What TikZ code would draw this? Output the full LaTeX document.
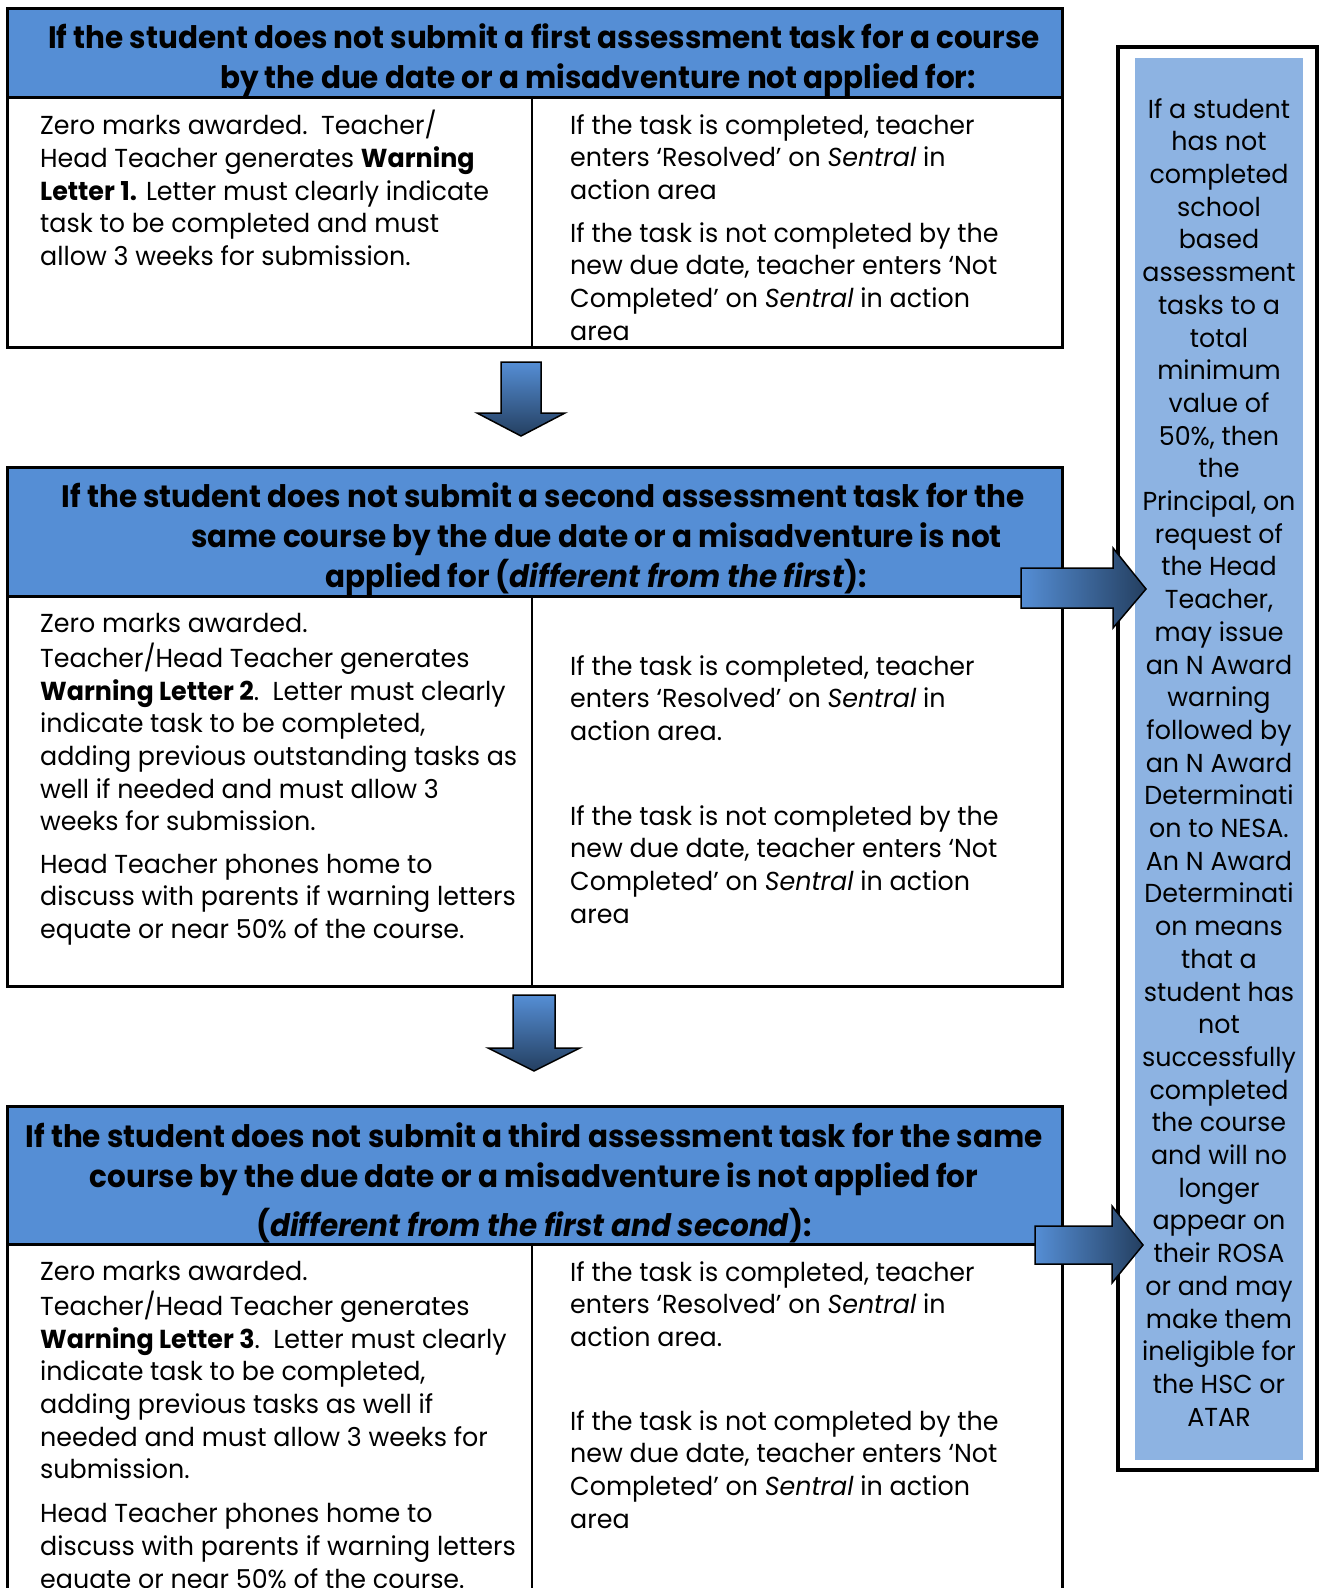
\documentclass[tikz,border=0pt]{standalone}
\usepackage{fontspec}
\setmainfont{Poppins}[FakeStretch=0.975]
\newfontfamily\headfont{Poppins}[FakeStretch=0.95]
\usetikzlibrary{positioning}

\definecolor{headblue}{RGB}{85,142,213}
\definecolor{sideblue}{RGB}{141,179,226}
\definecolor{darkblue}{RGB}{36,63,96}

\tikzset{
	bodytext/.style={anchor=north west, inner sep=0pt, align=left, font=\fontsize{26}{32.7}\selectfont},
	headtext/.style={anchor=north, inner sep=0pt, align=center, font=\headfont\bfseries\fontsize{31}{40}\selectfont},
	sidetext/.style={anchor=north, inner sep=0pt, align=center, font=\fontsize{26}{32.7}\selectfont},
	boxline/.style={line width=3pt},
	blockarrow/.style={draw=black, line width=1.5pt}
}

\begin{document}
\begin{tikzpicture}[x=1pt,y=-1pt]
	\newcommand{\myheadcolor}{headblue}
	\newcommand{\mysidecolor}{sideblue}
	\newcommand{\mydarkcolor}{darkblue}

		\useasboundingbox (0,0) rectangle (1320,1588);

		\def\arrowdownA{(501,362) -- (541,362) -- (541,413) -- (565,413) -- (521,436) -- (477,413) -- (501,413) -- cycle}
		\def\arrowdownB{(513,995) -- (555,995) -- (555,1048) -- (580,1048) -- (534,1071) -- (488,1048) -- (513,1048) -- cycle}
		\def\arrowrightA{(1021,568) -- (1113,568) -- (1113,548) -- (1146,589) -- (1113,628) -- (1113,608) -- (1021,608) -- cycle}
		\def\arrowrightB{(1035,1226) -- (1112,1226) -- (1112,1206) -- (1143,1245) -- (1112,1283) -- (1112,1264) -- (1035,1264) -- cycle}

		\begin{scope}[boxline]
			\filldraw[fill=\myheadcolor] (7,8) rectangle (1062,97);
			\draw (7,97) -- (7,347) -- (1062,347) -- (1062,97);
			\draw[line width=2.5pt] (532,97) -- (532,347);

			\filldraw[fill=\myheadcolor] (7,467) rectangle (1062,596);
			\draw (7,596) -- (7,986) -- (1062,986) -- (1062,596);
			\draw[line width=2.5pt] (532,596) -- (532,986);

			\filldraw[fill=\myheadcolor] (7,1106) rectangle (1062,1244);
			\draw (7,1244) -- (7,1588);
			\draw (1062,1244) -- (1062,1588);
			\draw[line width=2.5pt] (532,1244) -- (532,1588);
		\end{scope}

		\draw[line width=3.5pt] (1118,47) rectangle (1317,1470);
		\fill[\mysidecolor] (1135,58) rectangle (1303,1460);

		\shadedraw[blockarrow, top color=\myheadcolor, bottom color=\mydarkcolor] \arrowdownA;
		\shadedraw[blockarrow, top color=\myheadcolor, bottom color=\mydarkcolor] \arrowdownB;
		\shadedraw[blockarrow, left color=\myheadcolor, right color=\mydarkcolor] \arrowrightA;
		\shadedraw[blockarrow, left color=\myheadcolor, right color=\mydarkcolor] \arrowrightB;

		\node[headtext] (headA) at (544,20) {\strut If the student does not submit a first assessment task for a course\\
			\hspace*{108pt}by the due date or a misadventure not applied for:};
		\node[bodytext] (leftA) at (40,110) {\strut Zero marks awarded.\ \ Teacher/\\
			Head Teacher generates \textbf{Warning}\\
			\textbf{Letter 1.} Letter must clearly indicate\\
			task to be completed and must\\
			allow 3 weeks for submission.};
		\node[bodytext] (rightA) at (570,111) {\strut If the task is completed, teacher\\
			enters ‘Resolved’ on \textit{Sentral} in\\
			action area\\[10pt]
			If the task is not completed by the\\
			new due date, teacher enters ‘Not\\
			Completed’ on \textit{Sentral} in action\\
			area};

		\node[headtext] (headB) at (543,479) {\strut If the student does not submit a second assessment task for the\\
			\hspace*{107pt}same course by the due date or a misadventure is not\\
			\hspace*{107pt}applied for (\textit{different from the first}):};
		\node[bodytext] (leftB) at (40,609) {\strut Zero marks awarded.\\
			Teacher/Head Teacher generates\\
			\textbf{Warning Letter 2}.\ \ Letter must clearly\\
			indicate task to be completed,\\
			adding previous outstanding tasks as\\
			well if needed and must allow 3\\
			weeks for submission.\\[9.5pt]
			Head Teacher phones home to\\
			discuss with parents if warning letters\\
			equate or near 50\% of the course.};
		\node[bodytext] (rightB) at (570,652) {\strut If the task is completed, teacher\\
			enters ‘Resolved’ on \textit{Sentral} in\\
			action area.\\[52pt]
			If the task is not completed by the\\
			new due date, teacher enters ‘Not\\
			Completed’ on \textit{Sentral} in action\\
			area};

		\node[headtext] (headC) at (534,1119) {\strut If the student does not submit a third assessment task for the same\\
			course by the due date or a misadventure is not applied for\\[9pt]
			(\textit{different from the first and second}):};
		\node[bodytext] (leftC) at (40,1257) {\strut Zero marks awarded.\\
			Teacher/Head Teacher generates\\
			\textbf{Warning Letter 3}.\ \ Letter must clearly\\
			indicate task to be completed,\\
			adding previous tasks as well if\\
			needed and must allow 3 weeks for\\
			submission.\\[11pt]
			Head Teacher phones home to\\
			discuss with parents if warning letters\\
			equate or near 50\% of the course.};
		\node[bodytext] (rightC) at (570,1258) {\strut If the task is completed, teacher\\
			enters ‘Resolved’ on \textit{Sentral} in\\
			action area.\\[51pt]
			If the task is not completed by the\\
			new due date, teacher enters ‘Not\\
			Completed’ on \textit{Sentral} in action\\
			area};

		\node[sidetext] (side) at (1219,95) {\strut If a student\\has not\\completed\\school\\based\\assessment\\tasks to a\\total\\minimum\\value of\\50\%, then\\the\\Principal, on\\request of\\the Head\\Teacher,\\may issue\\an N Award\\warning\\followed by\\an N Award\\Determinati\\on to NESA.\\An N Award\\Determinati\\on means\\that a\\student has\\not\\successfully\\completed\\the course\\and will no\\longer\\appear on\\their ROSA\\or and may\\make them\\ineligible for\\the HSC or\\ATAR};
	\end{tikzpicture}
\end{document}
